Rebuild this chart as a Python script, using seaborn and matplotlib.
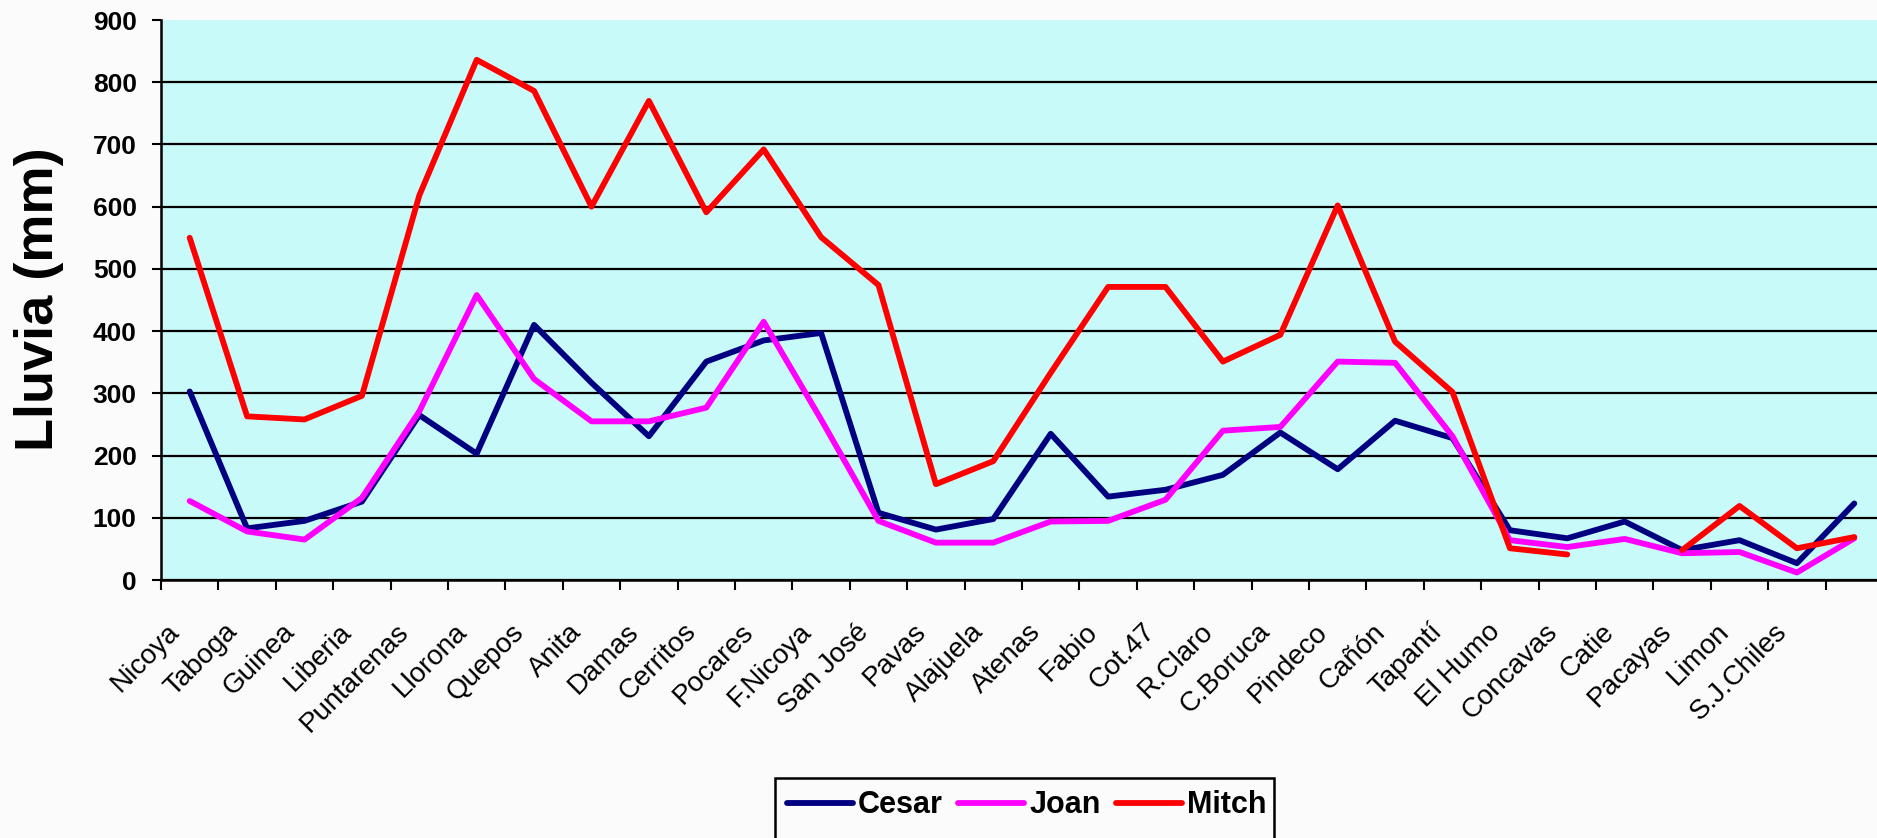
import numpy as np
import pandas as pd
import matplotlib
matplotlib.use("Agg")
import matplotlib.pyplot as plt
import matplotlib.transforms as mtransforms
from matplotlib.lines import Line2D
from matplotlib.patches import Rectangle
import seaborn as sns

# Estaciones (la última categoría no tiene rótulo)
estaciones = ["Nicoya", "Taboga", "Guinea", "Liberia", "Puntarenas", "Llorona",
              "Quepos", "Anita", "Damas", "Cerritos", "Pocares", "F.Nicoya",
              "San José", "Pavas", "Alajuela", "Atenas", "Fabio", "Cot.47",
              "R.Claro", "C.Boruca", "Pindeco", "Cañón", "Tapantí", "El Humo",
              "Concavas", "Catie", "Pacayas", "Limon", "S.J.Chiles", ""]

# Lluvia acumulada (mm) por evento
cesar = [303, 83, 95, 126, 265, 203, 410, 317, 231, 351, 385, 397, 108, 81, 98,
         235, 134, 145, 169, 237, 178, 256, 228, 80, 67, 94, 48, 64, 27, 123]
joan = [127, 78, 65, 132, 271, 458, 323, 255, 255, 277, 415, 258, 95, 60, 60,
        94, 95, 129, 240, 246, 351, 349, 231, 64, 53, 66, 43, 45, 12, 67]
mitch = [550, 263, 258, 296, 618, 836, 786, 600, 770, 591, 692, 551, 474, 154,
         191, 333, 471, 471, 351, 394, 602, 383, 302, 51, 41, np.nan, 48, 119,
         51, 69]

series = ["Cesar", "Joan", "Mitch"]
colores = {"Cesar": "#000080", "Joan": "#FF00FF", "Mitch": "#FF0000"}
ticks_y = [0, 100, 200, 300, 400, 500, 600, 700, 800, 900]

# Tabla larga; los tramos sin dato separan la línea en segmentos
filas = []
for nombre, valores in zip(series, [cesar, joan, mitch]):
    seg = 0
    for i, v in enumerate(valores):
        if np.isnan(v):
            seg += 1
            continue
        filas.append({"pos": i, "lluvia": v, "evento": nombre, "tramo": seg})
df = pd.DataFrame(filas)

sns.set_theme(style="white")
plt.rcParams["font.family"] = ["Liberation Sans", "DejaVu Sans"]
plt.rcParams["text.color"] = "black"
plt.rcParams["xtick.color"] = "black"
plt.rcParams["ytick.color"] = "black"
plt.rcParams["axes.labelcolor"] = "black"

W, H, DPI = 1877, 838, 100
FONDO = "#FBFBFB"
fig = plt.figure(figsize=(W / DPI, H / DPI), dpi=DPI, facecolor=FONDO)
ax = fig.add_axes([161 / W, 1 - 580 / H, (1883 - 161) / W, (580 - 20) / H])
ax.set_facecolor("#C8FAFA")

sns.lineplot(data=df, x="pos", y="lluvia", hue="evento", units="tramo",
             estimator=None, palette=colores, hue_order=series,
             linewidth=4.2, legend=False, ax=ax, zorder=3)

ax.set_xlim(-0.5, len(estaciones) - 0.5)
ax.set_ylim(0, 900)
ax.set_xlabel("")
ax.set_ylabel("")

# Eje Y
ax.set_yticks(ticks_y)
ax.set_yticklabels([str(t) for t in ticks_y], fontsize=19, fontweight="bold")
ax.tick_params(axis="y", direction="out", length=6.5, width=1.5,
               color="black", labelcolor="black", pad=11, left=True)
ax.yaxis.grid(True, color="black", linewidth=1.6)
ax.get_ygridlines()[-1].set_visible(False)
ax.xaxis.grid(False)
ax.set_axisbelow(True)

# Eje X: rótulos centrados en cada categoría, marcas entre categorías
ax.set_xticks(np.arange(len(estaciones)))
ax.set_xticklabels(estaciones, fontsize=20, rotation=45, ha="right",
                   va="center", rotation_mode="anchor", color="black")
ax.tick_params(axis="x", which="major", length=0, pad=34.5)
ax.set_xticks(np.arange(len(estaciones)) - 0.5, minor=True)
ax.tick_params(axis="x", which="minor", direction="out", length=7.2,
               width=1.5, color="black", bottom=True)
desplaza = mtransforms.ScaledTranslation(-14 / DPI, 0, fig.dpi_scale_trans)
for lab in ax.get_xticklabels():
    lab.set_transform(lab.get_transform() + desplaza)

for lado in ["top", "right"]:
    ax.spines[lado].set_visible(False)
for lado in ["left", "bottom"]:
    ax.spines[lado].set_color("black")
    ax.spines[lado].set_linewidth(1.8)

fig.text(39 / W, 1 - 299 / H, "Lluvia (mm)", rotation=90, fontsize=39,
         fontweight="bold", ha="center", va="center", color="black")

# Recuadro de la leyenda, abierto por el borde inferior de la figura
marco = Rectangle((775 / W, 1 - 860 / H), (1274 - 775) / W, (860 - 778) / H,
                  transform=fig.transFigure, facecolor=FONDO,
                  edgecolor="black", linewidth=1.8, clip_on=False, zorder=1)
fig.add_artist(marco)

manejadores = [Line2D([], [], color=colores[s], linewidth=4.2) for s in series]
leg = fig.legend(manejadores, series, loc="upper left",
                 bbox_to_anchor=(775 / W, 1 - 778 / H), ncol=3,
                 frameon=False, borderaxespad=0,
                 borderpad=0.4, handlelength=2.16, handletextpad=0.16,
                 columnspacing=0.5, prop={"size": 22, "weight": "bold"})
leg.set_zorder(2)
for t in leg.get_texts():
    t.set_color("black")

fig.savefig("out.png", dpi=DPI, facecolor=fig.get_facecolor())
